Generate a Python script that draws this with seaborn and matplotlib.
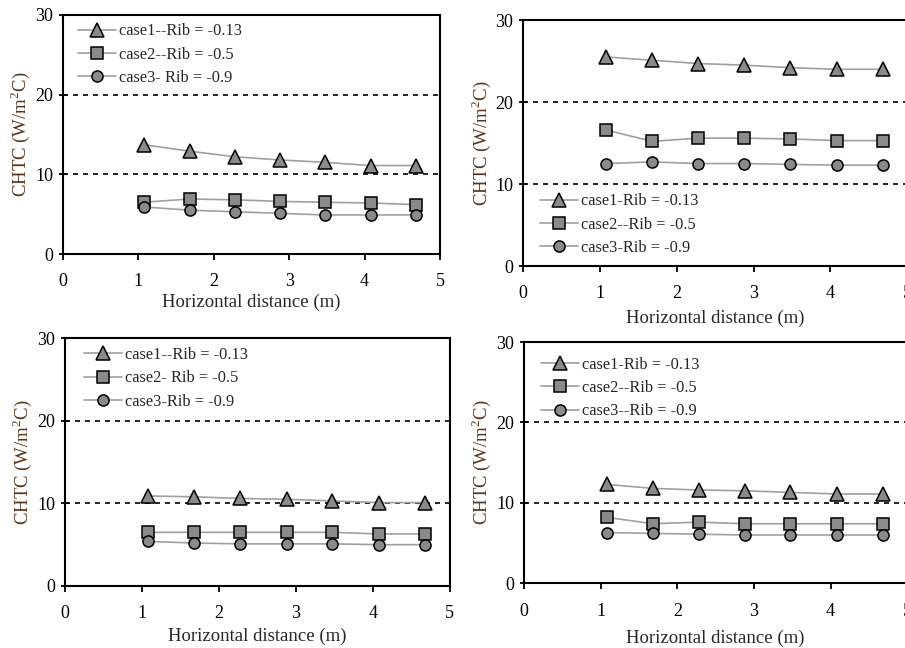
import matplotlib
matplotlib.use('Agg')
import matplotlib.pyplot as plt
import seaborn as sns

# horizontal distance of the measurement points (m)
distance = [1.08, 1.68, 2.28, 2.88, 3.47, 4.08, 4.68]

# panel a (top left)
a_case1 = [13.7, 12.9, 12.2, 11.8, 11.5, 11.1, 11.1]
a_case2 = [6.5, 6.9, 6.8, 6.6, 6.5, 6.4, 6.2]
a_case3 = [5.9, 5.5, 5.3, 5.1, 4.9, 4.9, 4.9]
a_labels = ['case1--Rib = -0.13', 'case2--Rib = -0.5', 'case3- Rib = -0.9']

# panel b (top right)
b_case1 = [25.5, 25.1, 24.7, 24.5, 24.2, 24.0, 24.0]
b_case2 = [16.6, 15.2, 15.6, 15.6, 15.5, 15.3, 15.3]
b_case3 = [12.5, 12.7, 12.5, 12.5, 12.4, 12.3, 12.3]
b_labels = ['case1-Rib = -0.13', 'case2--Rib = -0.5', 'case3-Rib = -0.9']

# panel c (bottom left)
c_case1 = [10.9, 10.8, 10.6, 10.5, 10.3, 10.1, 10.1]
c_case2 = [6.5, 6.5, 6.5, 6.5, 6.5, 6.3, 6.3]
c_case3 = [5.4, 5.2, 5.1, 5.1, 5.1, 5.0, 5.0]
c_labels = ['case1--Rib = -0.13', 'case2- Rib = -0.5', 'case3-Rib = -0.9']

# panel d (bottom right)
d_case1 = [12.3, 11.8, 11.6, 11.5, 11.3, 11.1, 11.1]
d_case2 = [8.2, 7.4, 7.6, 7.4, 7.4, 7.4, 7.4]
d_case3 = [6.3, 6.2, 6.1, 6.0, 6.0, 6.0, 6.0]
d_labels = ['case1-Rib = -0.13', 'case2--Rib = -0.5', 'case3--Rib = -0.9']

sns.set_style('ticks')
plt.rcParams['font.family'] = ['Liberation Serif', 'DejaVu Serif']
plt.rcParams['mathtext.fontset'] = 'custom'
plt.rcParams['mathtext.rm'] = 'Liberation Serif'

fig = plt.figure(figsize=(9.05, 6.48), dpi=100)

panels = [
    # rect, series, labels, legend anchor, xlabel pad
    ([0.0696, 0.608, 0.4165, 0.369], (a_case1, a_case2, a_case3), a_labels, (0.04, 0.965), 2),
    ([0.578, 0.5895, 0.4245, 0.3795], (b_case1, b_case2, b_case3), b_labels, (0.045, 0.295), 5),
    ([0.0718, 0.0957, 0.4252, 0.3823], (c_case1, c_case2, c_case3), c_labels, (0.05, 0.965), 4),
    ([0.579, 0.100, 0.4235, 0.372], (d_case1, d_case2, d_case3), d_labels, (0.045, 0.94), 7),
]

markers = ['^', 's', 'o']
msizes = [10, 9, 8]

for rect, series, labels, anchor, xpad in panels:
    ax = fig.add_axes(rect)
    for vals, mk, ms, lab in zip(series, markers, msizes, labels):
        sns.lineplot(x=distance, y=vals, ax=ax, color='#a0a0a0', linewidth=1.2,
                     marker=mk, markersize=ms, markerfacecolor='#8a8a8a',
                     markeredgecolor='black', markeredgewidth=1.1, label=lab)
    ax.axhline(10, color='black', linestyle=(0, (3, 3)), linewidth=1.2, zorder=0)
    ax.axhline(20, color='black', linestyle=(0, (3, 3)), linewidth=1.2, zorder=0)
    ax.set_xlim(0, 5)
    ax.set_ylim(0, 30)
    ax.set_xticks([0, 1, 2, 3, 4, 5])
    ax.set_yticks([0, 10, 20, 30])
    for s in ax.spines.values():
        s.set_linewidth(1.5)
        s.set_color('black')
    ax.tick_params(axis='both', direction='inout', length=6, width=1.3,
                   labelsize=13, colors='black', pad=4)
    ax.tick_params(axis='x', direction='out', length=4, pad=10)
    ax.set_xlabel('Horizontal distance (m)', fontsize=13.5, labelpad=xpad)
    ax.set_ylabel('CHTC (W/m$^2$C)', fontsize=13.5, color='#5a3418', labelpad=2)
    ax.legend(loc='upper left', bbox_to_anchor=anchor, frameon=False,
              fontsize=11.8, borderaxespad=0, borderpad=0, handlelength=2.3,
              handletextpad=0.2, labelspacing=0.45)

fig.savefig('out.png', dpi=100)
